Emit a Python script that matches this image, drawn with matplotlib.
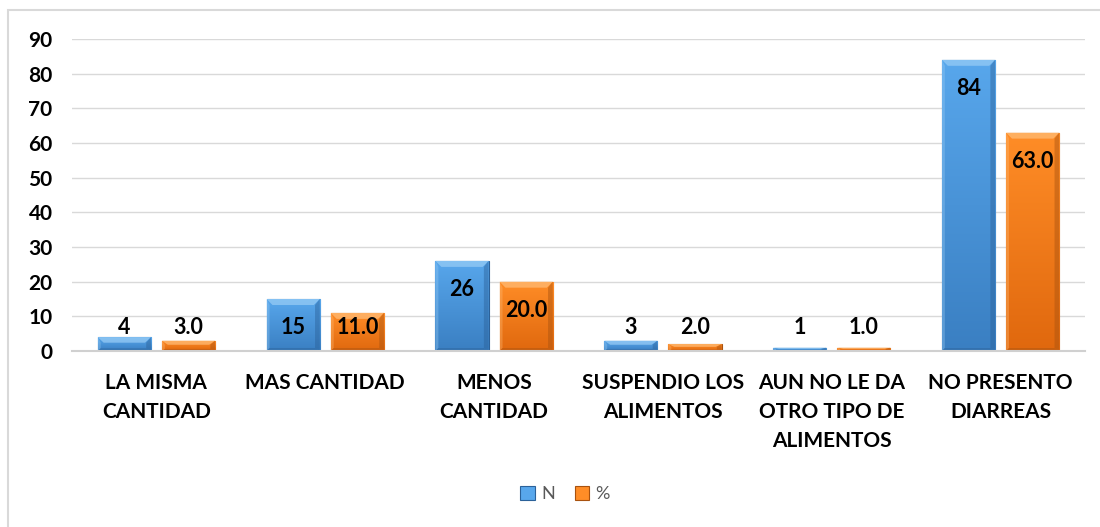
import matplotlib
matplotlib.use("Agg")
import matplotlib.pyplot as plt
import numpy as np
from matplotlib.patches import Rectangle, Polygon
from matplotlib.colors import LinearSegmentedColormap

categories = ["LA MISMA\nCANTIDAD", "MAS CANTIDAD", "MENOS\nCANTIDAD",
              "SUSPENDIO LOS\nALIMENTOS", "AUN NO LE DA\nOTRO TIPO DE\nALIMENTOS",
              "NO PRESENTO\nDIARREAS"]
n_values = [4, 15, 26, 3, 1, 84]
pct_values = [3.0, 11.0, 20.0, 2.0, 1.0, 63.0]
series_names = ["N", "%"]
yticks = [0, 10, 20, 30, 40, 50, 60, 70, 80, 90]

FONT = ["Lato", "DejaVu Sans"]
plt.rcParams['font.family'] = FONT

BLUE_TOP = "#58A7EC"
BLUE_BOT = "#3A7FC2"
BLUE_DARK = "#2B6199"
BLUE_LIGHT = "#9ACDF5"
OR_TOP = "#FF8D27"
OR_BOT = "#E0680E"
OR_DARK = "#A8520F"
OR_LIGHT = "#FFBE7A"

fig = plt.figure(figsize=(11, 5.27), dpi=100)
fig.patches.append(Rectangle((8/1100, -0.01), 1.2, 1 - 10/527 + 0.01,
                             transform=fig.transFigure, fill=False,
                             edgecolor="#D9D9D9", linewidth=1.5, zorder=0))

ax = fig.add_axes([72/1100, 1 - 351/527, (1085 - 72)/1100, (351 - 39)/527])
x = np.arange(len(categories))
w = 0.315
off = 0.19
PX_PER_UNIT = (351 - 39) / 90.0


def shade_bars(bars, top_c, bot_c, dark, light):
    cmap = LinearSegmentedColormap.from_list("s", [bot_c, top_c])
    grad = np.linspace(0, 1, 256).reshape(-1, 1)
    for b in bars:
        x0, y0 = b.get_x(), b.get_y()
        bw, bh = b.get_width(), b.get_height()
        im = ax.imshow(grad, cmap=cmap, aspect="auto", origin="lower",
                       extent=(x0, x0 + bw, y0, y0 + bh), zorder=2.1,
                       interpolation="bilinear")
        im.set_clip_path(b)
        bx = min(0.035, bw * 0.15)
        by = min(6 / PX_PER_UNIT, bh * 0.4)
        ax.add_patch(Polygon([(x0, y0 + bh), (x0 + bw, y0 + bh),
                              (x0 + bw - bx, y0 + bh - by), (x0 + bx, y0 + bh - by)],
                             closed=True, facecolor=light, edgecolor="none",
                             alpha=0.7, zorder=2.2))
        ax.add_patch(Polygon([(x0 + bw, y0 + bh), (x0 + bw, y0),
                              (x0 + bw - bx * 0.8, y0 + by * 0.5),
                              (x0 + bw - bx * 0.8, y0 + bh - by)],
                             closed=True, facecolor=dark, edgecolor="none",
                             alpha=0.45, zorder=2.2))
        ax.add_patch(Polygon([(x0, y0 + bh), (x0, y0),
                              (x0 + bx * 0.5, y0 + by * 0.5),
                              (x0 + bx * 0.5, y0 + bh - by)],
                             closed=True, facecolor=light, edgecolor="none",
                             alpha=0.35, zorder=2.2))
        ax.add_patch(Polygon([(x0, y0), (x0 + bw, y0),
                              (x0 + bw - bx * 0.8, y0 + by * 0.5),
                              (x0 + bx * 0.5, y0 + by * 0.5)],
                             closed=True, facecolor=dark, edgecolor="none",
                             alpha=0.45, zorder=2.2))
        b.set_edgecolor(dark)


bars_n = ax.bar(x - off, n_values, w, color=BLUE_TOP, linewidth=0.8, zorder=2,
                label=series_names[0])
bars_p = ax.bar(x + off, pct_values, w, color=OR_TOP, linewidth=0.8, zorder=2,
                label=series_names[1])
shade_bars(bars_n, BLUE_TOP, BLUE_BOT, BLUE_DARK, BLUE_LIGHT)
shade_bars(bars_p, OR_TOP, OR_BOT, OR_DARK, OR_LIGHT)


def label(bars, vals, fmt):
    for b, v in zip(bars, vals):
        cx = b.get_x() + b.get_width() / 2
        # inside end, clamped so the label never sits below the baseline
        y_px = max(v * PX_PER_UNIT - 29, 23.5)
        ax.annotate(fmt.format(v), (cx, 0), xytext=(0, y_px * 72 / 100),
                    textcoords="offset points", ha="center", va="center",
                    fontsize=15.5, fontweight="bold", color="black", zorder=5)


label(bars_n, n_values, "{:d}")
label(bars_p, pct_values, "{:.1f}")

ax.set_xlim(-0.5, len(categories) - 0.5)
ax.set_ylim(0, 90)
ax.set_yticks(yticks)
ax.set_yticklabels([str(t) for t in yticks], fontsize=15, fontweight="bold")
ax.set_xticks(x)
ax.set_xticklabels(categories, fontsize=15, fontweight="bold", linespacing=1.55)
ax.tick_params(axis="both", length=0)
ax.tick_params(axis="y", pad=14)
ax.tick_params(axis="x", pad=16)
ax.grid(axis="y", color="#D9D9D9", linewidth=1, zorder=0)
ax.set_axisbelow(True)
for s in ["left", "right", "top"]:
    ax.spines[s].set_visible(False)
ax.spines["bottom"].set_color("#D0D0D0")
ax.spines["bottom"].set_linewidth(1.5)

leg = fig.legend(handles=[bars_n, bars_p], labels=series_names,
                 loc="center", bbox_to_anchor=(565/1100, 1 - 494/527),
                 ncol=2, frameon=False, fontsize=13, handlelength=0.8,
                 handleheight=0.8, handletextpad=0.35, columnspacing=1.1)
for t in leg.get_texts():
    t.set_color("#595959")

fig.savefig("out.png", dpi=100)
